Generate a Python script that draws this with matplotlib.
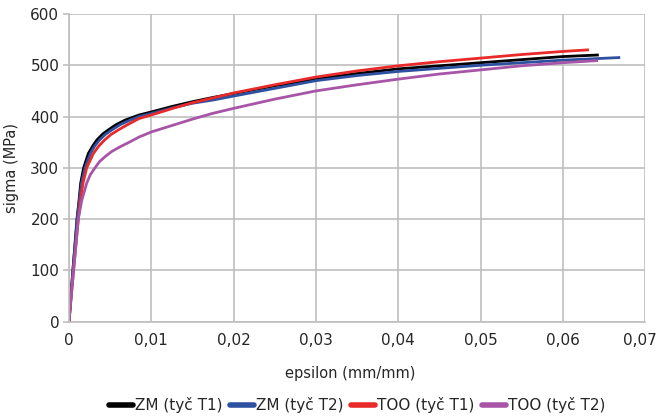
import matplotlib
matplotlib.use("Agg")
import matplotlib.pyplot as plt
from matplotlib.transforms import ScaledTranslation

plt.rcParams["font.family"] = ["DejaVu Sans"]

# stress-strain curves, strain in mm/mm, stress in MPa
zm_t1_eps = [0, 0.00045, 0.00097, 0.00122, 0.00142, 0.00178, 0.00235, 0.0029,
             0.00337, 0.0041, 0.00478, 0.0057, 0.0068, 0.0085, 0.01, 0.0126,
             0.015, 0.0174, 0.02, 0.025, 0.03, 0.035, 0.04, 0.045, 0.05,
             0.055, 0.06, 0.0642]
zm_t1_sig = [0, 95, 200, 236, 270, 300, 328, 343, 354, 366, 374, 384, 393, 403,
             409, 420, 429, 437, 445, 460, 473, 484, 493, 499, 505, 511, 517,
             520]

zm_t2_eps = [0, 0.00045, 0.001, 0.00125, 0.00152, 0.00195, 0.0026, 0.0031,
             0.00369, 0.0044, 0.0052, 0.0062, 0.0074, 0.0085, 0.01, 0.0126,
             0.015, 0.0174, 0.02, 0.025, 0.03, 0.035, 0.04, 0.045, 0.05,
             0.055, 0.06, 0.0668]
zm_t2_sig = [0, 95, 200, 236, 270, 300, 328, 342, 354, 365, 374, 384, 393, 400,
             406, 417, 426, 432, 440, 455, 470, 480, 488, 494, 500, 505, 510,
             515]

too_t1_eps = [0, 0.0005, 0.00113, 0.00138, 0.0017, 0.00215, 0.00296, 0.0036,
              0.0043, 0.0051, 0.006, 0.0072, 0.0085, 0.01, 0.0126, 0.015,
              0.0174, 0.02, 0.025, 0.03, 0.035, 0.04, 0.045, 0.05, 0.055,
              0.06, 0.063]
too_t1_sig = [0, 90, 200, 236, 270, 300, 328, 342, 354, 365, 374, 385, 396,
              403, 416, 427, 436, 446, 462, 477, 489, 499, 507, 514, 521, 527,
              530]

too_t2_eps = [0, 0.0005, 0.00113, 0.00154, 0.00215, 0.0026, 0.00316, 0.0037,
              0.0044, 0.0052, 0.0062, 0.0072, 0.0085, 0.01, 0.0126, 0.015,
              0.0174, 0.02, 0.025, 0.03, 0.035, 0.04, 0.045, 0.05, 0.055,
              0.06, 0.0641]
too_t2_sig = [0, 90, 200, 236, 270, 287, 300, 312, 322, 332, 341, 349, 360,
              370, 383, 395, 406, 416, 434, 450, 462, 473, 483, 491, 499, 505,
              509]

x_ticks = [0, 0.01, 0.02, 0.03, 0.04, 0.05, 0.06, 0.07]
x_labels = ["0", "0,01", "0,02", "0,03", "0,04", "0,05", "0,06", "0,07"]
y_ticks = [0, 100, 200, 300, 400, 500, 600]

grid_c = "#BFBFBF"
text_c = "#262626"

fig = plt.figure(figsize=(6.57, 4.18), dpi=100)
ax = fig.add_axes([0.105, 0.2304, 0.877, 0.7361])

ax.plot(zm_t1_eps, zm_t1_sig, color="#000000", lw=2.0, label="ZM (tyč T1)")
ax.plot(zm_t2_eps, zm_t2_sig, color="#2E50A0", lw=2.0, label="ZM (tyč T2)")
ax.plot(too_t1_eps, too_t1_sig, color="#E82A2A", lw=2.0, label="TOO (tyč T1)")
ax.plot(too_t2_eps, too_t2_sig, color="#A855A8", lw=2.0, label="TOO (tyč T2)")

ax.set_xlim(0, 0.07)
ax.set_ylim(0, 600)
ax.set_xticks(x_ticks)
ax.set_xticklabels(x_labels)
ax.set_yticks(y_ticks)
ax.grid(True, color=grid_c, lw=1.2)
ax.set_axisbelow(True)

for side in ["top", "right"]:
    ax.spines[side].set_visible(False)
for side in ["left", "bottom"]:
    ax.spines[side].set_color(grid_c)
    ax.spines[side].set_linewidth(1.2)

ax.tick_params(axis="x", length=0, pad=8, labelsize=11, labelcolor=text_c)
ax.tick_params(axis="y", length=4, width=1.2, color=grid_c, pad=3,
               labelsize=11, labelcolor=text_c)

# keep the last x label inside the figure
last = ax.get_xticklabels()[-1]
last.set_horizontalalignment("right")
last.set_transform(last.get_transform()
                   + ScaledTranslation(0.115, 0, fig.dpi_scale_trans))

ax.set_xlabel("epsilon (mm/mm)", fontsize=10.5, color=text_c, labelpad=10)
ax.xaxis.set_label_coords(0.488, -0.145)
ax.set_ylabel("sigma (MPa)", fontsize=10.5, color=text_c, labelpad=8)

leg = fig.legend(loc="center", bbox_to_anchor=(357 / 657, 1 - 405 / 418),
                 ncol=4, frameon=False, fontsize=11, handlelength=1.6,
                 handletextpad=0.1, columnspacing=0.5)
for line in leg.get_lines():
    line.set_linewidth(4)
    line.set_solid_capstyle("round")
for t in leg.get_texts():
    t.set_color(text_c)

fig.savefig("out.png", dpi=100)
